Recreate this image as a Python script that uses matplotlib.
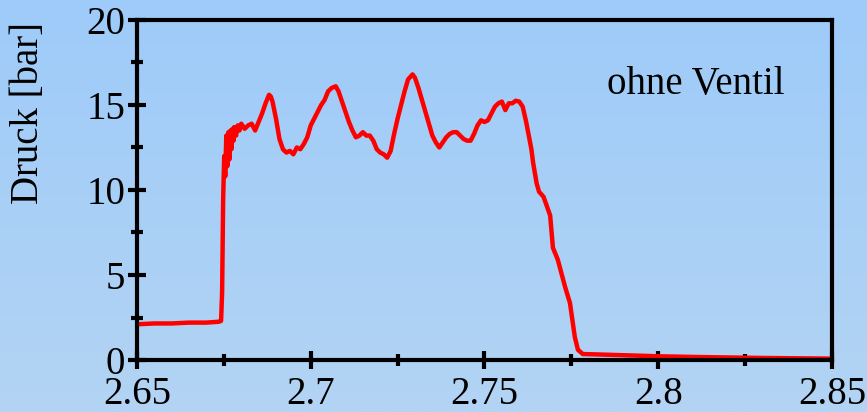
import numpy as np
import matplotlib
matplotlib.use("Agg")
import matplotlib.pyplot as plt
from matplotlib.colors import LinearSegmentedColormap
from matplotlib.ticker import MultipleLocator

# pressure trace (time in s, pressure in bar)
zeit = [2.650, 2.655, 2.660, 2.665, 2.670, 2.6735, 2.6742,
        2.6745, 2.6748, 2.6751, 2.6754, 2.6757, 2.6760, 2.6763, 2.6766,
        2.6769, 2.6772, 2.6775, 2.6778, 2.6780, 2.6785, 2.6790, 2.6795,
        2.680, 2.681, 2.682, 2.683, 2.684, 2.685, 2.686, 2.687, 2.688,
        2.6885, 2.689, 2.690, 2.691, 2.692, 2.693, 2.694, 2.695, 2.696,
        2.697, 2.698, 2.699, 2.700, 2.701, 2.702, 2.703, 2.704, 2.705,
        2.706, 2.7072, 2.708, 2.709, 2.710, 2.711, 2.712, 2.713, 2.714,
        2.715, 2.716, 2.717, 2.718, 2.719, 2.720, 2.721, 2.722, 2.723,
        2.724, 2.725, 2.726, 2.727, 2.728, 2.7293, 2.730, 2.731, 2.732,
        2.733, 2.734, 2.735, 2.736, 2.737, 2.738, 2.739, 2.740, 2.741,
        2.742, 2.743, 2.744, 2.745, 2.746, 2.747, 2.748, 2.749, 2.750,
        2.751, 2.752, 2.753, 2.754, 2.755, 2.756, 2.757, 2.758, 2.759,
        2.760, 2.761, 2.762, 2.7635, 2.764, 2.765, 2.7657, 2.767, 2.7689,
        2.7697, 2.7711, 2.7732, 2.7746, 2.776, 2.7769, 2.7783, 2.782,
        2.790, 2.800, 2.810, 2.820, 2.830, 2.840, 2.850]
druck = [2.1, 2.15, 2.15, 2.2, 2.2, 2.25, 2.3,
         4.0, 9.5, 12.0, 10.8, 13.2, 11.4, 13.4, 11.8,
         13.5, 12.4, 13.6, 12.9, 13.7, 13.2, 13.8, 13.5,
         13.9, 13.6, 13.8, 13.9, 13.5, 14.0, 14.5, 15.1, 15.6,
         15.5, 15.2, 14.2, 13.0, 12.4, 12.2, 12.3, 12.1, 12.5,
         12.4, 12.7, 13.1, 13.8, 14.2, 14.6, 15.0, 15.3, 15.8,
         16.0, 16.1, 15.8, 15.2, 14.6, 14.0, 13.5, 13.1, 13.2,
         13.4, 13.2, 13.2, 12.9, 12.4, 12.2, 12.1, 11.9, 12.3,
         13.3, 14.2, 15.0, 15.8, 16.5, 16.8, 16.6, 16.0, 15.3,
         14.6, 13.9, 13.2, 12.8, 12.5, 12.8, 13.1, 13.3, 13.4,
         13.4, 13.2, 13.0, 12.9, 12.9, 13.3, 13.8, 14.1, 14.0,
         14.1, 14.5, 14.9, 15.1, 15.2, 14.7, 15.1, 15.1, 15.25,
         15.2, 14.9, 14.0, 12.4, 11.6, 10.4, 9.9, 9.6, 8.5,
         6.6, 5.9, 4.3, 3.35, 1.35, 0.6, 0.35, 0.33,
         0.28, 0.22, 0.18, 0.15, 0.12, 0.10, 0.08]

x_ticks = [2.65, 2.7, 2.75, 2.8, 2.85]
x_labels = ["2.65", "2.7", "2.75", "2.8", "2.85"]
y_ticks = [0, 5, 10, 15, 20]

plt.rcParams["font.family"] = ["Liberation Serif", "DejaVu Serif"]

fig = plt.figure(figsize=(8.67, 4.12), dpi=100)

# soft blue gradient behind everything
bg = fig.add_axes([0, 0, 1, 1], zorder=-1)
grad = np.linspace(0, 1, 256).reshape(-1, 1)
cmap = LinearSegmentedColormap.from_list("bg", ["#9ECBFA", "#B3D4F3"])
bg.imshow(grad, aspect="auto", cmap=cmap, extent=[0, 1, 0, 1], origin="upper")
bg.axis("off")

ax = fig.add_axes([0.158, 0.1262, 0.8016, 0.8253])
ax.set_facecolor("none")
ax.plot(zeit, druck, color="#FF0000", lw=3.2, solid_joinstyle="round")

ax.set_xlim(2.65, 2.85)
ax.set_ylim(0, 20)
ax.set_xticks(x_ticks)
ax.set_xticklabels(x_labels)
ax.set_yticks(y_ticks)
ax.xaxis.set_minor_locator(MultipleLocator(0.025))
ax.yaxis.set_minor_locator(MultipleLocator(2.5))

for s in ax.spines.values():
    s.set_linewidth(3)
ax.tick_params(which="major", direction="inout", length=13, width=3,
               labelsize=28, pad=2, top=False, right=False)
ax.tick_params(axis="x", which="major", pad=5)
ax.tick_params(which="minor", direction="inout", length=9, width=3,
               top=False, right=False)

# label sits high on the axis, next to the upper ticks
ax.set_ylabel("Druck [bar]", fontsize=28)
ax.yaxis.set_label_coords(-0.13, 0.726)
ax.text(2.7853, 15.65, "ohne Ventil", fontsize=28, va="baseline", ha="left")

fig.savefig("out.png", dpi=100)
